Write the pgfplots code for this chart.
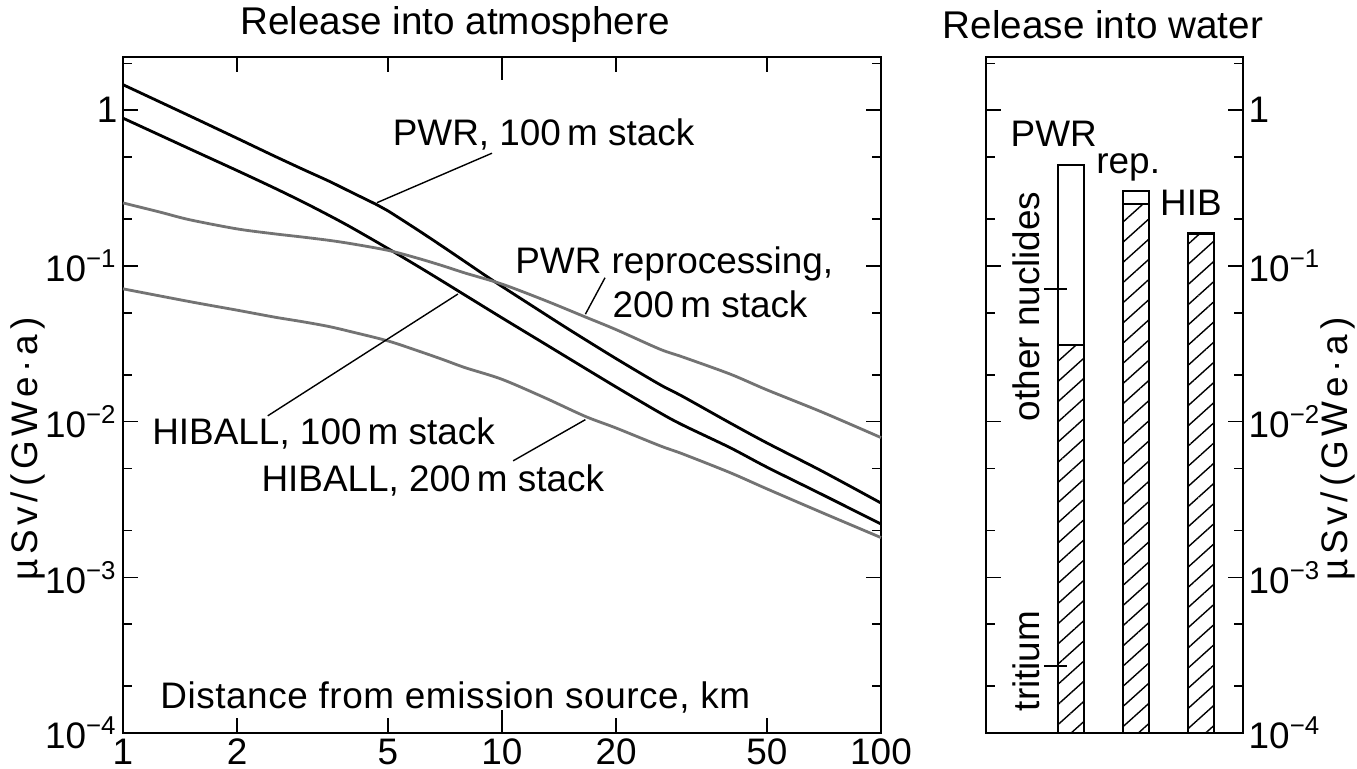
\documentclass[border=0pt]{standalone}
\usepackage{fontspec}
\setmainfont{Liberation Sans}
\usepackage{pgfplots}
\pgfplotsset{compat=1.18}
\usetikzlibrary{patterns.meta}

\newcommand{\dose}{{\addfontfeature{LetterSpace=13}µSv/(GWe·a)}}

\begin{document}
\fontsize{10.5}{12.6}\selectfont
\begin{tikzpicture}
\path[use as bounding box] (0,0) rectangle (135.7mm,76.9mm);

% release into atmosphere
\begin{axis}[
  at={(12.3mm,3.6mm)}, anchor=south west,
  scale only axis, width=75.8mm, height=67.6mm,
  xmode=log, ymode=log,
  xmin=1, xmax=100, ymin=1e-4, ymax=2.2,
  xtick={1,2,5,20,50,100}, xticklabels={1,2,5,20,50,100},
  extra x ticks={10}, extra x tick labels={10},
  extra x tick style={major tick length=2.3mm},
  ytick={1e-4,1e-3,1e-2,1e-1,1},
  yticklabels={10\textsuperscript{−4},10\textsuperscript{−3},10\textsuperscript{−2},10\textsuperscript{−1},1},
  minor ytick={2e-4,5e-4,2e-3,5e-3,2e-2,5e-2,0.2,0.5,2},
  xticklabel style={inner sep=0.5mm},
  yticklabel style={inner sep=0.5mm},
  tick align=inside, major tick length=1.5mm, minor tick length=0.9mm,
  axis line style={line width=0.45pt}, tick style={black,line width=0.45pt},
  clip=false,
]
% PWR, 100 m stack
\addplot[black, line width=0.8pt, smooth] coordinates {
(1,1.46) (1.5,0.92) (2,0.661) (2.5,0.51) (3,0.415) (3.5,0.35) (4,0.298)
(4.68,0.247) (5,0.226) (6,0.170) (7,0.1325) (8,0.1063) (9.47,0.0805)
(12,0.0555) (15,0.0392) (20,0.0254) (26.1,0.0173) (30,0.0145)
(40,0.0098) (50,0.0073) (70,0.0048) (100,0.0030)};
% HIBALL, 100 m stack
\addplot[black, line width=0.8pt, smooth] coordinates {
(1,0.89) (1.5,0.565) (2,0.41) (2.5,0.318) (3,0.256) (3.5,0.211) (4,0.177)
(5,0.1295) (6,0.0995) (7,0.0792) (8,0.0648) (10,0.0464) (12.6,0.033)
(15,0.0255) (20,0.0167) (26.1,0.0114) (30,0.0095) (40,0.0068)
(50,0.0051) (70,0.0034) (100,0.0022)};
% PWR reprocessing, 200 m stack
\addplot[black!55, line width=0.8pt, smooth] coordinates {
(1,0.254) (1.25,0.222) (1.5,0.198) (2,0.173) (2.5,0.161) (3,0.153)
(3.5,0.146) (4,0.139) (5,0.126) (6,0.112) (7,0.1) (8,0.09) (10,0.0765)
(13,0.060) (16.6,0.047) (20,0.039) (26.1,0.0292) (30,0.026) (40,0.0202)
(50,0.016) (70,0.0115) (100,0.0079)};
% HIBALL, 200 m stack
\addplot[black!55, line width=0.8pt, smooth] coordinates {
(1,0.0713) (1.5,0.059) (2,0.052) (2.5,0.047) (3,0.0437) (3.5,0.0408)
(4,0.0378) (5,0.033) (6,0.0285) (7,0.025) (8,0.0222) (10,0.0187)
(13,0.0142) (16.6,0.0108) (20,0.0091) (26.1,0.0070) (30,0.0062)
(40,0.0047) (50,0.0037) (70,0.0026) (100,0.0018)};

\node[anchor=west, inner sep=0] at (axis cs:5.13,0.70) {PWR, 100\,m stack};
\draw[line width=0.4pt] (axis cs:9.41,0.53) -- (axis cs:4.68,0.255);
\node[anchor=west, inner sep=0] at (axis cs:10.8,0.103) {PWR reprocessing,};
\node[anchor=west, inner sep=0] at (axis cs:19.5,0.057) {200\,m stack};
\draw[line width=0.4pt] (axis cs:18.7,0.084) -- (axis cs:16.6,0.049);
\node[anchor=west, inner sep=0] at (axis cs:1.19,0.0084) {HIBALL, 100\,m stack};
\draw[line width=0.4pt] (axis cs:2.41,0.0109) -- (axis cs:7.65,0.066);
\node[anchor=west, inner sep=0] at (axis cs:2.31,0.0042) {HIBALL, 200\,m stack};
\draw[line width=0.4pt] (axis cs:10.7,0.0056) -- (axis cs:16.6,0.0103);
\node[anchor=west, inner sep=0] at (axis cs:1.25,1.7e-4)
  {{\addfontfeature{LetterSpace=1.5}Distance from emission source, km}};

\node at (rel axis cs:0.438,1) [yshift=3.2mm]
  {\fontsize{11}{13}\selectfont Release into atmosphere};
\node[rotate=90] at (rel axis cs:-0.125,0.42) {\dose};
\end{axis}

% release into water
\begin{axis}[
  at={(98.6mm,3.6mm)}, anchor=south west,
  scale only axis, width=25.7mm, height=67.6mm,
  ymode=log, ymin=1e-4, ymax=2.2,
  xmin=-0.308, xmax=3.646, xtick=\empty,
  ytick={1e-4,1e-3,1e-2,1e-1,1},
  yticklabels={10\textsuperscript{−4},10\textsuperscript{−3},10\textsuperscript{−2},10\textsuperscript{−1},1},
  minor ytick={2e-4,5e-4,2e-3,5e-3,2e-2,5e-2,0.2,0.5,2},
  yticklabel pos=right, ytick pos=both,
  yticklabel style={inner sep=0.5mm},
  tick align=inside, major tick length=1.5mm, minor tick length=0.9mm,
  axis line style={line width=0.45pt}, tick style={black,line width=0.45pt},
  log origin y=infty, clip=false,
]
\addplot[ybar, bar width=2.6mm, bar shift=0pt, fill=white, draw=black, line width=0.6pt]
  coordinates {(1,0.443) (2,0.305) (3,0.162)};
\addplot[ybar, bar width=2.6mm, bar shift=0pt, draw=black, line width=0.6pt,
  pattern={Lines[angle=42,distance=1.5mm,line width=0.4pt]}]
  coordinates {(1,0.031) (2,0.25) (3,0.16)};

\node[anchor=west, inner sep=0] at (axis cs:0.06,0.71) {PWR};
\node[anchor=west, inner sep=0] at (axis cs:1.38,0.43) {rep.};
\node[anchor=west, inner sep=0] at (axis cs:2.36,0.253) {HIB};
\node[rotate=90] at (axis cs:0.307,0.055) {other nuclides};
\draw[line width=0.4pt] (axis cs:0.584,0.0713) -- (axis cs:0.938,0.0713);
\node[rotate=90] at (axis cs:0.307,2.9e-4) {tritium};
\draw[line width=0.4pt] (axis cs:0.584,2.7e-4) -- (axis cs:0.938,2.7e-4);

\node at (rel axis cs:0.455,1) [yshift=3.2mm]
  {\fontsize{11}{13}\selectfont Release into water};
\node[rotate=90] at (rel axis cs:1.37,0.42) {\dose};
\end{axis}
\end{tikzpicture}
\end{document}
